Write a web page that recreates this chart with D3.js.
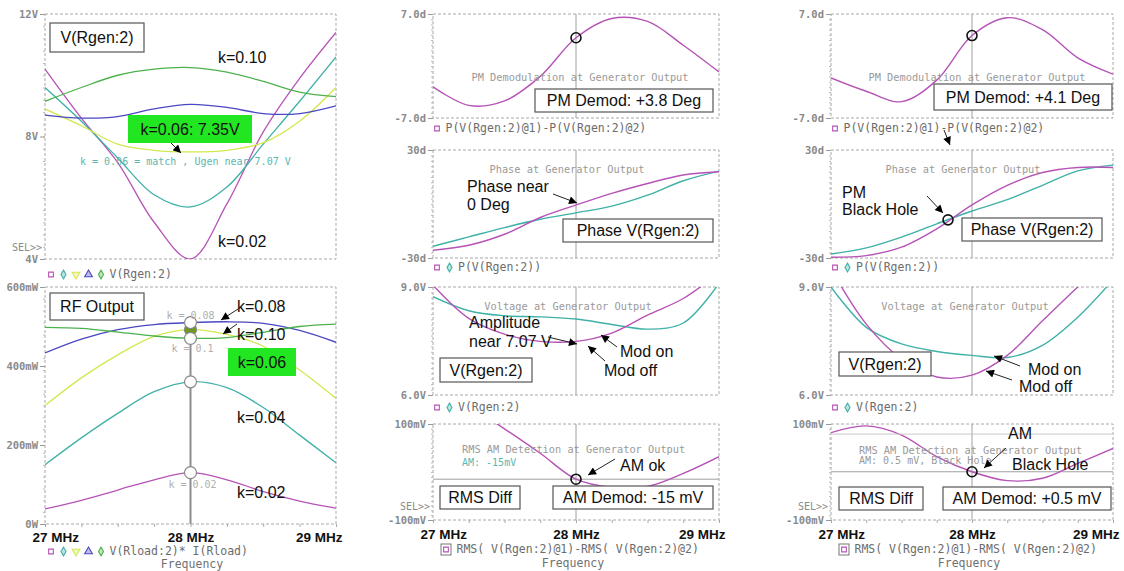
<!DOCTYPE html>
<html><head><meta charset="utf-8">
<script src="https://cdn.jsdelivr.net/npm/d3@7"></script>
<style>
body{margin:0;background:#fff;}
svg{display:block;}
</style></head><body>
<svg id="c" width="1124" height="571"></svg>
<script>
// ---------------- DATA ----------------
const freqs = [27, 27.25, 27.5, 27.75, 28, 28.25, 28.5, 28.75, 29];
const kNames = ["k=0.02", "k=0.04", "k=0.06", "k=0.08", "k=0.10"];
// Left top: V(Rgen:2) [V]
const vgenK02 = [10.2, 8.6, 7.15, 5.2, 4.0, 5.8, 8.15, 9.9, 11.4];
const vgenK04 = [9.6, 8.5, 7.3, 6.1, 5.7, 6.35, 7.75, 9.15, 10.6];
const vgenK06 = [8.9, 8.35, 7.75, 7.55, 7.5, 7.55, 7.8, 8.5, 9.6];
const vgenK08 = [8.7, 8.6, 8.65, 8.9, 9.05, 8.95, 8.75, 8.75, 9.0];
const vgenK10 = [9.15, 9.6, 10.0, 10.2, 10.25, 10.1, 9.8, 9.45, 9.3];
// Left bottom: RF output [mW]
const poutK02 = [38, 60, 86, 112, 130, 112, 82, 58, 40];
const poutK04 = [150, 218, 280, 335, 360, 345, 295, 225, 155];
const poutK06 = [300, 370, 428, 475, 492, 480, 450, 390, 318];
const poutK08 = [433, 468, 492, 505, 510, 512, 508, 490, 460];
const poutK10 = [498, 495, 486, 476, 470, 472, 485, 500, 506];
// Middle column (k = 0.06)
const pmMid = [-2.8, -5.3, -4.7, -1.4, 3.8, 6.4, 6.0, 2.8, -0.8];
const phaseMid1 = [-25.7, -22.9, -16.8, -7.5, -0.6, 5.9, 11.4, 16.1, 17.9];
const phaseMid2 = [-23.5, -18.3, -13.1, -8.5, -4.9, -1.2, 4.9, 12.9, 18.3];
const voltMid1 = [9.05, 8.13, 7.69, 7.49, 7.49, 7.72, 8.22, 8.68, 9.4];
const voltMid2 = [8.73, 8.34, 8.2, 8.17, 8.11, 7.96, 7.83, 8.0, 9.1];
const rmsMid = [180, 137, 90, 39, -15, -32, -30, -3, 32];
// Right column (black hole)
const pmRight = [-1.6, -3.4, -4.8, -1.9, 4.1, 6.5, 4.9, 1.1, -1.1];
const phaseRight1 = [-29.6, -28.7, -24.0, -13.8, -0.5, 10.4, 17.5, 20.3, 20.3];
const phaseRight2 = [-27.8, -24.4, -18.4, -11.0, -3.9, 2.4, 10.4, 18.4, 21.6];
const voltRight1 = [9.5, 7.97, 7.0, 6.5, 6.55, 7.1, 8.06, 9.0, 9.9];
const voltRight2 = [9.0, 7.88, 7.42, 7.21, 7.1, 7.04, 7.38, 8.16, 9.2];
const rmsRight = [82, 96, 77, 32, 0.5, -18, -13, 18, 49];
const blackHole = {f: 27.83, deg: -8.8};
// Tick labels
const xTicks = [27, 28, 29];
const xTickLabels = ["27 MHz", "28 MHz", "29 MHz"];
const tVgen = [12, 8, 4], tVgenL = ["12V", "8V", "4V"];
const tPout = [600, 400, 200, 0], tPoutL = ["600mW", "400mW", "200mW", "0W"];
const tPM = [7, -7], tPML = ["7.0d", "-7.0d"];
const tPh = [30, -30], tPhL = ["30d", "-30d"];
const tV = [9, 6], tVL = ["9.0V", "6.0V"];
const tRms = [100, -100], tRmsL = ["100mV", "-100mV"];

// ---------------- STYLE ----------------
const MONO = "'DejaVu Sans Mono', monospace";
const SANS = "'Liberation Sans', Arial, sans-serif";
const C = {mag: "#b653b6", teal: "#3fb1a7", yel: "#d3e84e", blue: "#4a48c2", green: "#4db24d", box: "#22e622"};
const kColors = [C.mag, C.teal, C.yel, C.blue, C.green];

const svg = d3.select("#c");
const defs = svg.append("defs");
defs.append("marker").attr("id", "ah").attr("viewBox", "0 0 10 10")
  .attr("refX", 10).attr("refY", 5).attr("markerWidth", 11).attr("markerHeight", 8)
  .attr("markerUnits", "userSpaceOnUse").attr("orient", "auto")
  .append("path").attr("d", "M0,0L10,5L0,10z").attr("fill", "#000");

let clipN = 0;
function makePanel(o) {
  const x = d3.scaleLinear().domain([27, 29]).range([o.x0, o.x1]);
  const y = d3.scaleLinear().domain(o.dom).range([o.y1, o.y0]);
  const g = svg.append("g");
  const id = "clip" + (clipN++);
  defs.append("clipPath").attr("id", id).append("rect")
    .attr("x", o.x0).attr("y", o.y0).attr("width", o.x1 - o.x0).attr("height", o.y1 - o.y0);
  g.append("rect").attr("x", o.x0).attr("y", o.y0).attr("width", o.x1 - o.x0).attr("height", o.y1 - o.y0)
    .attr("fill", "none").attr("stroke", "#a8a8a8").attr("stroke-dasharray", "3,2");
  // minor ticks on left axis
  const n = 20, d0 = o.dom[0], d1 = o.dom[1];
  const minor = d3.range(n + 1).map(i => d0 + i * (d1 - d0) / n);
  const mg = g.append("g").attr("transform", `translate(${o.x0},0)`)
    .call(d3.axisLeft(y).tickValues(minor).tickSize(2).tickFormat(""));
  mg.select(".domain").remove();
  mg.selectAll("line").attr("stroke", "#bbb");
  const ag = g.append("g").attr("transform", `translate(${o.x0},0)`)
    .call(d3.axisLeft(y).tickValues(o.ticks).tickSize(5).tickPadding(2)
      .tickFormat((d, i) => o.labels[i]));
  ag.select(".domain").remove();
  ag.selectAll("line").attr("stroke", "#999");
  ag.selectAll("text").attr("font-family", MONO).attr("font-size", 10.5).attr("font-weight", "bold")
    .attr("fill", "#8a8a8a");
  if (o.xaxis) {
    const xm = g.append("g").attr("transform", `translate(0,${o.y1})`)
      .call(d3.axisBottom(x).tickValues(d3.range(27, 29.01, 0.25)).tickSize(3).tickFormat(""));
    xm.select(".domain").remove();
    xm.selectAll("line").attr("stroke", "#aaa");
    const xg = g.append("g").attr("transform", `translate(0,${o.y1})`)
      .call(d3.axisBottom(x).tickValues(xTicks).tickSize(0).tickPadding(o.xpad || 8)
        .tickFormat((d, i) => xTickLabels[i]));
    xg.select(".domain").remove();
    xg.selectAll("text").attr("font-family", SANS).attr("font-size", 13.5).attr("font-weight", "bold")
      .attr("fill", "#111")
      .attr("text-anchor", (d, i) => i === 0 ? "start" : (i === 2 ? "end" : "middle"))
      .attr("dx", (d, i) => i === 0 ? -13 : (i === 2 ? 6 : 0));
  }
  return {x, y, g, clip: id, o};
}
const lineGen = p => d3.line().x((d, i) => p.x(freqs[i])).y(d => p.y(d)).curve(d3.curveCatmullRom.alpha(0.5));
function drawLine(p, vals, color, w) {
  p.g.append("path").datum(vals).attr("clip-path", `url(#${p.clip})`)
    .attr("fill", "none").attr("stroke", color).attr("stroke-width", w || 1.4).attr("d", lineGen(p));
}
function cursorV(p, f) {
  p.g.append("line").attr("x1", p.x(f)).attr("x2", p.x(f)).attr("y1", p.o.y0).attr("y2", p.o.y1)
    .attr("stroke", "#a0a0a0").attr("stroke-width", 1);
}
function cursorH(p, v, col) {
  p.g.append("line").attr("x1", p.o.x0).attr("x2", p.o.x1).attr("y1", p.y(v)).attr("y2", p.y(v))
    .attr("stroke", col || "#a0a0a0").attr("stroke-width", 1);
}
function ring(p, f, v) {
  p.g.append("circle").attr("cx", p.x(f)).attr("cy", p.y(v)).attr("r", 5)
    .attr("fill", "none").attr("stroke", "#111").attr("stroke-width", 1.6);
}
function txt(x, y, s, o) {
  o = o || {};
  return svg.append("text").attr("x", x).attr("y", y).text(s)
    .attr("font-family", o.font || SANS).attr("font-size", o.size || 16)
    .attr("fill", o.fill || "#111").attr("text-anchor", o.anchor || "start")
    .attr("font-weight", o.weight || "normal");
}
function box(x, y, w, h, s, fill) {
  svg.append("rect").attr("x", x).attr("y", y).attr("width", w).attr("height", h)
    .attr("fill", fill || "#fff").attr("stroke", fill ? "none" : "#555").attr("stroke-width", 1.2);
  txt(x + w / 2, y + h / 2 + 5.5, s, {anchor: "middle"});
}
function arrow(x1, y1, x2, y2) {
  svg.append("line").attr("x1", x1).attr("y1", y1).attr("x2", x2).attr("y2", y2)
    .attr("stroke", "#222").attr("stroke-width", 1).attr("marker-end", "url(#ah)");
}
function title(x, y, s, anchor) {
  txt(x, y, s, {font: MONO, size: 10.3, fill: "#9a9a9a", anchor: anchor || "middle"});
}
function legend(x, y, syms, label, boxed) {
  const g = svg.append("g");
  let cx = x;
  syms.forEach(([type, col]) => {
    let t = d3.symbolSquare, rot = 0, size = 22;
    if (type === "di") { t = d3.symbolDiamond; size = 22; }
    if (type === "tu") { t = d3.symbolTriangle; size = 26; }
    if (type === "td") { t = d3.symbolTriangle; size = 26; rot = 180; }
    g.append("path").attr("d", d3.symbol().type(t).size(size)())
      .attr("transform", `translate(${cx},${y - 3.5}) rotate(${rot})`)
      .attr("fill", type === "sq" ? "none" : col).attr("fill-opacity", type === "sq" ? 1 : 0.35)
      .attr("stroke", col).attr("stroke-width", 1.1);
    if (boxed) {
      g.append("rect").attr("x", cx - 5).attr("y", y - 9).attr("width", 10).attr("height", 11)
        .attr("fill", "none").attr("stroke", "#777").attr("stroke-width", 1);
    }
    cx += 12.5;
  });
  txt(cx - 4 + (boxed ? 2 : 0), y, label, {font: MONO, size: 11.5, fill: "#6c6c6c"});
}
function freqLabel(x, y) { txt(x, y, "Frequency", {font: MONO, size: 11.5, fill: "#707070", anchor: "middle"}); }
function sel(x, y) { txt(x, y, "SEL>>", {font: MONO, size: 10, fill: "#8a8a8a", anchor: "end"}); }

// ---------------- LEFT COLUMN ----------------
const LT = makePanel({x0: 45, x1: 336, y0: 14, y1: 259, dom: [4, 12], ticks: tVgen, labels: tVgenL});
[vgenK02, vgenK04, vgenK06, vgenK08, vgenK10].forEach((s, i) => drawLine(LT, s, kColors[i], 1.3));
box(50, 23, 94, 29, "V(Rgen:2)");
txt(218, 63, kNames[4]);
box(128, 115, 124, 28, "k=0.06: 7.35V", C.box);
arrow(171, 143, 181, 153);
txt(80, 165, "k = 0.06 = match , Ugen near 7.07 V", {font: MONO, size: 10, fill: "#5ab8b0"});
txt(218, 247, kNames[0]);
sel(42, 251);
legend(51, 278, [["sq", C.mag], ["di", C.teal], ["td", C.yel], ["tu", C.blue], ["di", C.green]], "V(Rgen:2)");

const LB = makePanel({x0: 45, x1: 336, y0: 287, y1: 524, dom: [0, 600], ticks: tPout, labels: tPoutL, xaxis: true, xpad: 8});
const poutAll = [poutK02, poutK04, poutK06, poutK08, poutK10];
poutAll.forEach((s, i) => drawLine(LB, s, kColors[i], 1.3));
const iC = freqs.indexOf(28);
LB.g.append("line").attr("x1", LB.x(28)).attr("x2", LB.x(28))
  .attr("y1", LB.y(d3.max(poutAll, s => s[iC]))).attr("y2", LB.y(0))
  .attr("stroke", "#8c8c8c").attr("stroke-width", 2);
poutAll.forEach((s, i) => {
  LB.g.append("circle").attr("cx", LB.x(28)).attr("cy", LB.y(s[iC])).attr("r", 6)
    .attr("fill", i === 2 ? "#6c9a1c" : "#fff").attr("stroke", "#888").attr("stroke-width", 1.2);
});
txt(LB.x(28), LB.y(poutK08[iC]) - 4, "k = 0.08", {font: MONO, size: 10, fill: "#b0b0b0", anchor: "middle"});
txt(LB.x(28) + 2, LB.y(poutK10[iC]) + 14, "k = 0.1", {font: MONO, size: 10, fill: "#b0b0b0", anchor: "middle"});
txt(LB.x(28) + 2, LB.y(poutK02[iC]) + 15, "k = 0.02", {font: MONO, size: 10, fill: "#b0b0b0", anchor: "middle"});
box(50, 293, 94, 27, "RF Output");
txt(237, 312, kNames[3]);
arrow(238, 309, 221, 320);
txt(237, 340, kNames[4]);
arrow(237, 324, 223, 334);
box(228, 348, 68, 28, "k=0.06", C.box);
txt(237, 423, kNames[1]);
txt(237, 498, kNames[0]);
legend(51, 555, [["sq", C.mag], ["di", C.teal], ["td", C.yel], ["tu", C.blue], ["di", C.green]], "V(Rload:2)* I(Rload)");
freqLabel(192, 568);

// ---------------- MIDDLE & RIGHT COLUMNS ----------------
function column(x0, x1, d) {
  const P1 = makePanel({x0, x1, y0: 14, y1: 118, dom: [-7, 7], ticks: tPM, labels: tPML});
  const P2 = makePanel({x0, x1, y0: 150, y1: 258, dom: [-30, 30], ticks: tPh, labels: tPhL});
  const P3 = makePanel({x0, x1, y0: 287, y1: 395, dom: [6, 9], ticks: tV, labels: tVL});
  const P4 = makePanel({x0, x1, y0: 424, y1: 520, dom: [-100, 100], ticks: tRms, labels: tRmsL, xaxis: true, xpad: 9});
  [P1, P2, P3, P4].forEach(p => cursorV(p, 28));
  drawLine(P1, d.pm, C.mag);
  drawLine(P2, d.ph2, C.teal);
  drawLine(P2, d.ph1, C.mag);
  drawLine(P3, d.v2, C.teal);
  drawLine(P3, d.v1, C.mag);
  cursorH(P4, d.rms[iC]);
  drawLine(P4, d.rms, C.mag);
  ring(P1, 28, d.pm[iC]);
  legend(x0 + 4, 132, [["sq", C.mag]], "P(V(Rgen:2)@1)-P(V(Rgen:2)@2)");
  legend(x0 + 4, 271, [["sq", C.mag], ["di", C.teal]], "P(V(Rgen:2))");
  legend(x0 + 4, 411, [["sq", C.mag], ["di", C.teal]], "V(Rgen:2)");
  legend(x0 + 13, 553, [["sq", C.mag]], "RMS( V(Rgen:2)@1)-RMS( V(Rgen:2)@2)", true);
  freqLabel((x0 + x1) / 2 - 3, 567);
  sel(x0 - 3, 510);
  return {P1, P2, P3, P4};
}

const M = column(433, 719, {pm: pmMid, ph1: phaseMid1, ph2: phaseMid2, v1: voltMid1, v2: voltMid2, rms: rmsMid});
title(580, 81, "PM Demodulation at Generator Output");
box(535, 89, 178, 23, "PM Demod: +3.8 Deg");
title(567, 173, "Phase at Generator Output");
txt(467, 192, "Phase near");
txt(467, 210, "0 Deg");
arrow(553, 194, 577, 203);
box(563, 219, 150, 23, "Phase V(Rgen:2)");
title(568, 310, "Voltage at Generator Output");
txt(469, 328, "Amplitude");
txt(469, 347, "near 7.07 V");
arrow(548, 337, 577, 344);
txt(620, 357, "Mod on");
txt(604, 376, "Mod off");
arrow(617, 347, 601, 335);
arrow(605, 361, 588, 346);
box(440, 358, 92, 24, "V(Rgen:2)");
title(462, 453, "RMS AM Detection at Generator Output", "start");
txt(462, 466, "AM: -15mV", {font: MONO, size: 10, fill: "#5ab8b0"});
ring(M.P4, 28, rmsMid[iC]);
txt(620, 471, "AM ok");
arrow(615, 459, 588, 475);
box(440, 486, 80, 23, "RMS Diff");
box(553, 486, 160, 23, "AM Demod: -15 mV");

const R = column(831, 1113, {pm: pmRight, ph1: phaseRight1, ph2: phaseRight2, v1: voltRight1, v2: voltRight2, rms: rmsRight});
cursorH(R.P4, 79, "#c8c8c8");
title(977, 81, "PM Demodulation at Generator Output");
box(934, 84, 178, 26, "PM Demod: +4.1 Deg");
arrow(944, 130, 950, 145);
title(963, 173, "Phase at Generator Output");
txt(842, 198, "PM");
txt(842, 215, "Black Hole");
arrow(927, 196, 943, 213);
ring(R.P2, blackHole.f, blackHole.deg);
box(962, 218, 140, 23, "Phase V(Rgen:2)");
title(965, 310, "Voltage at Generator Output");
box(839, 352, 92, 24, "V(Rgen:2)");
txt(1028, 375, "Mod on");
txt(1019, 392, "Mod off");
arrow(1020, 366, 994, 356);
arrow(1012, 380, 986, 371);
title(859, 454, "RMS AM Detection at Generator Output", "start");
txt(859, 464, "AM: 0.5 mV, Black Hole", {font: MONO, size: 10, fill: "#9a9a9a"});
ring(R.P4, 28, rmsRight[iC]);
txt(1008, 439, "AM");
txt(1012, 470, "Black Hole");
arrow(1006, 448, 984, 468);
box(839, 487, 84, 23, "RMS Diff");
box(943, 487, 168, 23, "AM Demod: +0.5 mV");
</script>
</body></html>
